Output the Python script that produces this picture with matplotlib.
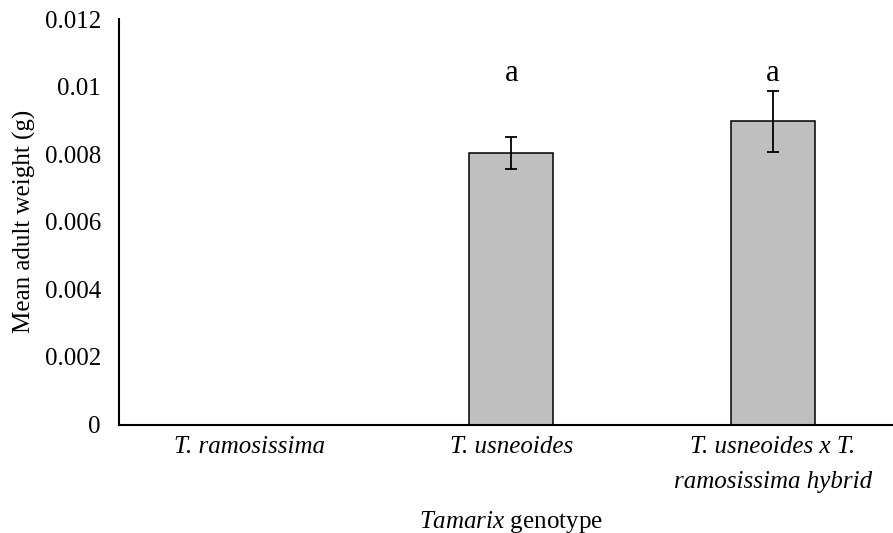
import numpy as np
import matplotlib
matplotlib.use("Agg")
import matplotlib.pyplot as plt

# Mean adult weight per Tamarix genotype, with standard errors
genotypes = ["T. ramosissima", "T. usneoides",
             "T. usneoides x T.\nramosissima hybrid"]
mean_weight = [0.0, 0.00804, 0.00897]
std_err = [0.0, 0.00047, 0.00091]
letters = ["", "a", "a"]
letter_y = [0.0104, 0.0104, 0.0104]

plt.rcParams["font.family"] = ["Liberation Serif", "DejaVu Serif"]
plt.rcParams["mathtext.fontset"] = "custom"
plt.rcParams["mathtext.it"] = "Liberation Serif:italic"
plt.rcParams["mathtext.rm"] = "Liberation Serif"

fig = plt.figure(figsize=(8.93, 5.33), dpi=100)
ax = fig.add_axes([119 / 893, 108.5 / 533, 784.5 / 893, 405.5 / 533])

x = np.arange(len(genotypes))
ax.bar(x, mean_weight, width=0.32, color="#BFBFBF", edgecolor="black",
       linewidth=1.1, zorder=2)
ax.errorbar(x, mean_weight, yerr=std_err, fmt="none", ecolor="black",
            elinewidth=1.3, capsize=4.5, capthick=1.3, zorder=3)

for xi, lab, ly in zip(x, letters, letter_y):
    if lab:
        ax.text(xi, ly, lab, ha="center", va="center", fontsize=22)

ax.set_xlim(-0.5, len(genotypes) - 0.5)
ax.set_ylim(0, 0.012)
ax.set_yticks(np.arange(0, 0.0121, 0.002))
ax.set_yticklabels(["0", "0.002", "0.004", "0.006", "0.008", "0.01", "0.012"])
ax.set_xticks(x)
ax.set_xticklabels(genotypes, linespacing=1.8, fontstyle="italic")
ax.tick_params(axis="y", length=0, pad=13, labelsize=18)
ax.tick_params(axis="x", length=0, pad=8, labelsize=18)

ax.spines["top"].set_visible(False)
ax.spines["right"].set_visible(False)
ax.spines["left"].set_linewidth(1.5)
ax.spines["bottom"].set_linewidth(1.5)

ax.set_ylabel("Mean adult weight (g)", fontsize=18, va="center")
ax.yaxis.set_label_coords(-0.12, 0.5)
ax.set_xlabel("$\\it{Tamarix}$ genotype", fontsize=18, va="center")
ax.xaxis.set_label_coords(0.5, -0.24)

fig.savefig("out.png", dpi=100)
